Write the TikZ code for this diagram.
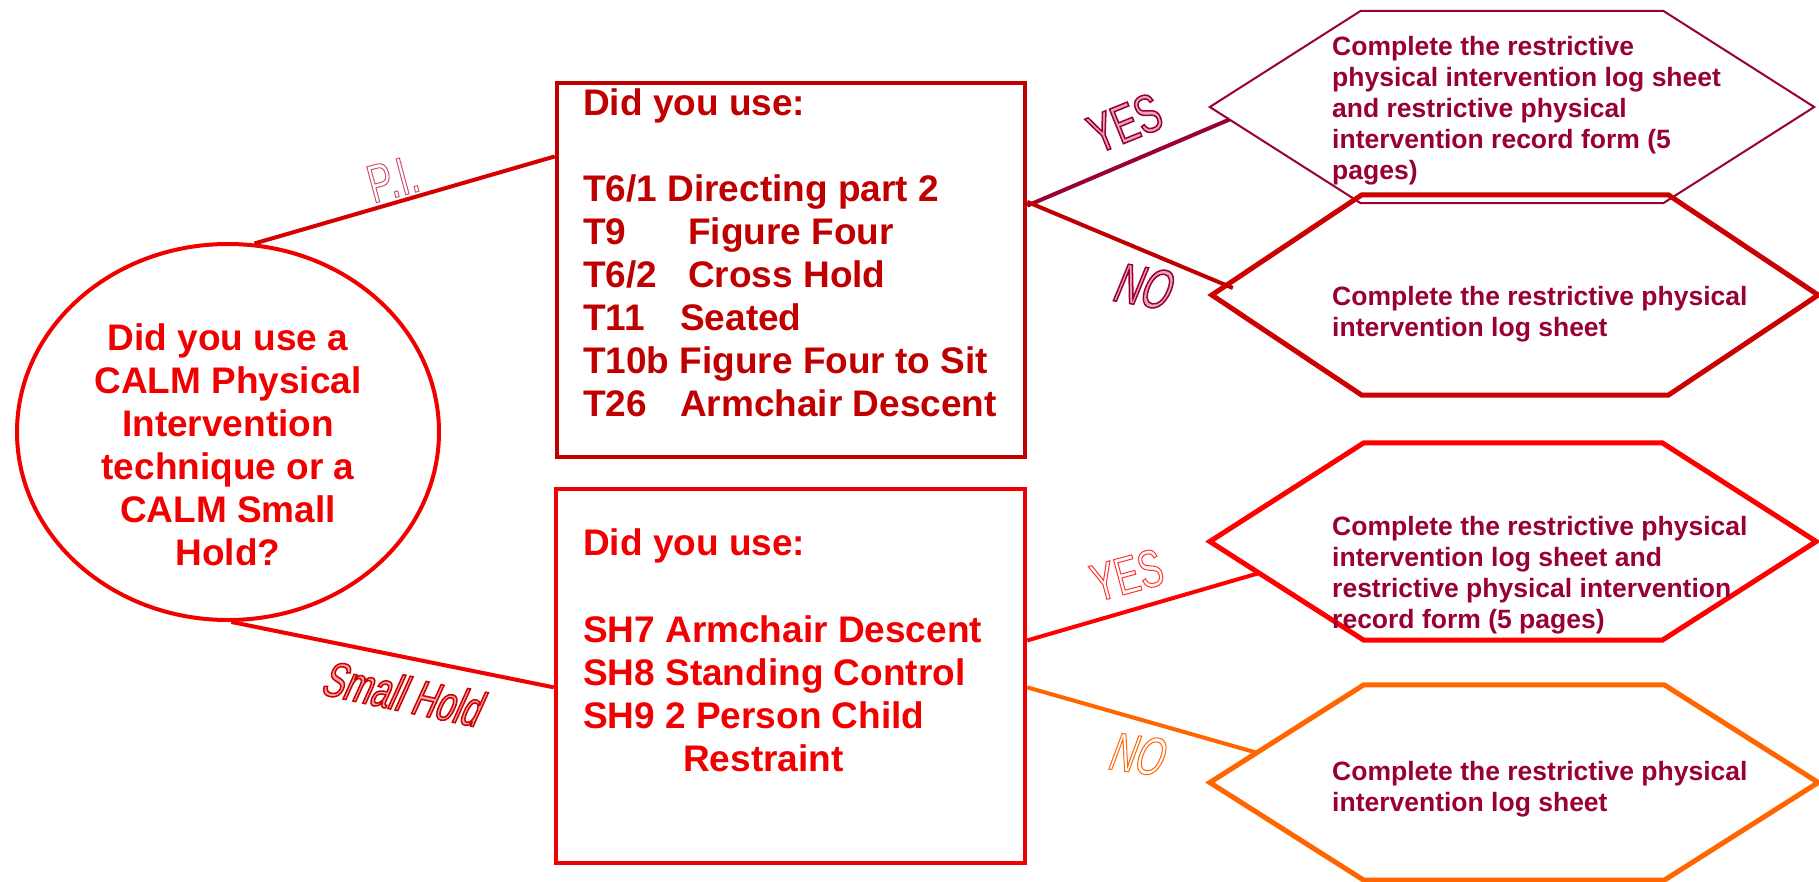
\documentclass[tikz,border=0pt]{standalone}
\usepackage{fontspec}
\setmainfont{Liberation Sans}
\newfontfamily\narrowfont[FakeStretch=0.68]{Liberation Sans}
\newfontfamily\narrowslant[FakeStretch=0.66,FakeSlant=0.22]{Liberation Sans}
\usetikzlibrary{shapes.geometric,calc}
\definecolor{ellred}{HTML}{F00000}
\definecolor{boxdark}{HTML}{C00000}
\definecolor{boxred}{HTML}{F00000}
\definecolor{maroon}{HTML}{990033}
\definecolor{hexdark}{HTML}{CC0000}
\definecolor{hexred}{HTML}{FF0000}
\definecolor{hexorange}{HTML}{FF6600}
\definecolor{pinkfill}{HTML}{EBA5BE}
\definecolor{redpink}{HTML}{F4A8A8}
\definecolor{pilink}{HTML}{D40000}
% outlined text: #1 render mode, #2 stroke width, #3 stroke rgb, #4 text
\newcommand\olt[4]{\special{pdf:literal direct #3 RG #2 w #1 Tr}#4\special{pdf:literal direct 0 Tr}}
\tikzset{
  bigtext/.style={font=\fontsize{37pt}{43pt}\selectfont\bfseries, inner sep=0pt},
  hextext/.style={font=\fontsize{26.5pt}{31pt}\selectfont\bfseries, text=maroon,
                  align=left, anchor=north west, inner sep=0pt},
  frame/.style={draw, rectangle, line width=4.5pt, inner sep=0pt},
  hexspace/.style={inner sep=0pt, rectangle},
  conn/.style={line width=4pt},
  lbl/.style={inner sep=0pt},
}
\begin{document}
\begin{tikzpicture}[x=1pt,y=-1pt]
\fill[white] (0,0) rectangle (1819,881);
\useasboundingbox (0,0) rectangle (1819,881);

% ellipse
\node[ellipse, draw=ellred, line width=4pt, minimum width=422pt, minimum height=376pt, inner sep=0pt] (ell) at (228,432) {};
\node[bigtext, text=ellred, align=center, anchor=north] (elltext) at (228,323.5)
  {Did you use a\\CALM Physical\\Intervention\\technique or a\\CALM Small\\Hold?};

% boxes
\node[frame, draw=boxdark, minimum width=468pt, minimum height=374pt] (box1) at (791,270) {};
\node[bigtext, text=boxdark, align=left, anchor=north west] (box1text) at (583,88.5)
  {Did you use:\\[43pt]
   T6/1 Directing part 2\\
   \makebox[105pt][l]{T9}Figure Four\\
   \makebox[105pt][l]{T6/2}Cross Hold\\
   \makebox[97pt][l]{T11}Seated\\
   T10b Figure Four to Sit\\
   \makebox[97pt][l]{T26}Armchair Descent};

\node[frame, draw=boxred, minimum width=469pt, minimum height=374pt] (box2) at (790.5,676) {};
\node[bigtext, text=boxred, align=left, anchor=north west] (box2text) at (583,528.5)
  {Did you use:\\[44pt]
   SH7 Armchair Descent\\
   SH8 Standing Control\\
   SH9 2 Person Child\\
   \hspace*{100pt}Restraint};

% hexagons
\node[hexspace, minimum width=604pt, minimum height=192pt] (h1) at (1512,107) {};
\draw[maroon, line width=2pt] (h1.west) -- ([xshift=151pt]h1.north west) -- ([xshift=-151pt]h1.north east)
  -- (h1.east) -- ([xshift=-151pt]h1.south east) -- ([xshift=151pt]h1.south west) -- cycle;
\node[hextext] (h1text) at (1332,36)
  {Complete the restrictive\\physical intervention log sheet\\and restrictive physical\\intervention record form (5\\pages)};

\node[hexspace, minimum width=606pt, minimum height=200pt] (h2) at (1515,295) {};
\draw[hexdark, line width=5pt] (h2.west) -- ([xshift=150pt]h2.north west) -- ([xshift=-150pt]h2.north east)
  -- (h2.east) -- ([xshift=-150pt]h2.south east) -- ([xshift=150pt]h2.south west) -- cycle;
\node[hextext] (h2text) at (1332,286)
  {Complete the restrictive physical\\intervention log sheet};

\node[hexspace, minimum width=606pt, minimum height=197pt] (h3) at (1513,541.5) {};
\draw[hexred, line width=5pt] (h3.west) -- ([xshift=154pt]h3.north west) -- ([xshift=-154pt]h3.north east)
  -- (h3.east) -- ([xshift=-154pt]h3.south east) -- ([xshift=154pt]h3.south west) -- cycle;
\node[hextext] (h3text) at (1332,516)
  {Complete the restrictive physical\\intervention log sheet and\\restrictive physical intervention\\record form (5 pages)};

\node[hexspace, minimum width=608pt, minimum height=195pt] (h4) at (1514,782.5) {};
\draw[hexorange, line width=5pt] (h4.west) -- ([xshift=154pt]h4.north west) -- ([xshift=-154pt]h4.north east)
  -- (h4.east) -- ([xshift=-154pt]h4.south east) -- ([xshift=154pt]h4.south west) -- cycle;
\node[hextext] (h4text) at (1332,761)
  {Complete the restrictive physical\\intervention log sheet};

% connectors
\draw[conn, pilink] (ell.82) -- ($(box1.north west)!0.2!(box1.south west)$);
\draw[conn, ellred] (ell.-89) -- ($(box2.north west)!0.53!(box2.south west)$);
\draw[conn, maroon] ($(box1.north east)!0.33!(box1.south east)$) -- ($(h1.west)!0.13!([xshift=151pt]h1.south west)$);
\draw[conn, boxdark] ($(box1.north east)!0.32!(box1.south east)$) -- ($(h2.west)+(21,-7)$);
\draw[conn, hexred] ($(box2.north east)!0.406!(box2.south east)$) -- ($(h3.west)!0.32!([xshift=154pt]h3.south west)$);
\draw[conn, hexorange] ($(box2.north east)!0.53!(box2.south east)$) -- ($(h4.west)!0.305!([xshift=154pt]h4.north west)$);

% labels
\node[lbl, rotate=15, text=white, font=\fontsize{54pt}{54pt}\narrowfont] (lpi) at (393,179)
  {\olt{2}{1}{0.8 0.33 0.44}{P.I.}};
\node[lbl, rotate=-12, text=redpink, font=\fontsize{50pt}{50pt}\narrowslant] (lsh) at (401,693)
  {\olt{2}{1.5}{0.8 0 0}{Small Hold}};
\node[lbl, rotate=22, text=pinkfill, font=\fontsize{54pt}{54pt}\narrowfont] (lyes1) at (1125,123)
  {\olt{2}{1.5}{0.6 0 0.2}{YES}};
\node[lbl, rotate=-10, text=pinkfill, font=\fontsize{56pt}{56pt}\narrowslant] (lno1) at (1141,286)
  {\olt{2}{1.5}{0.6 0 0.2}{NO}};
\node[lbl, rotate=15, text=white, font=\fontsize{53pt}{53pt}\narrowfont] (lyes2) at (1127,575)
  {\olt{2}{1}{1 0.2 0.2}{YES}};
\node[lbl, rotate=-8, text=white, font=\fontsize{54pt}{54pt}\narrowslant] (lno2) at (1135,754)
  {\olt{2}{1}{1 0.4 0}{NO}};
\end{tikzpicture}
\end{document}
